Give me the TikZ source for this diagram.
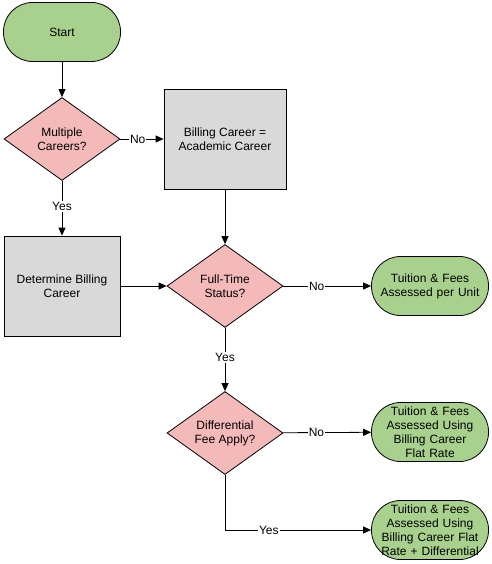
\documentclass[tikz,border=0pt]{standalone}
\usepackage{fontspec}
\setmainfont{Liberation Sans}
\usetikzlibrary{arrows.meta, shapes.geometric}
\definecolor{termgreen}{RGB}{169,209,142}
\definecolor{decpink}{RGB}{244,186,186}
\definecolor{procgray}{RGB}{217,217,217}
\tikzset{
    %set default line width
    every picture/.style={line width=0.8pt},
    terminal/.style={
        draw,
        fill=termgreen,
        minimum width=117pt,
        minimum height=59pt,
        rounded corners=29pt,
        align=center,
        inner sep=0pt,
        text width=110pt,
        font=\fontsize{12}{14}\selectfont,
    },
    decision/.style={
        draw,
        diamond,
        aspect=1.5,
        fill=decpink,
        minimum width=116pt,
        minimum height=83pt,
        inner sep=0pt,
        align=center,
        font=\fontsize{12}{14}\selectfont,
    },
    process/.style={
        draw,
        fill=procgray,
        minimum width=116pt,
        minimum height=100pt,
        align=center,
        font=\fontsize{12}{14}\selectfont,
    },
    flow/.style={
        -{Triangle[length=8pt,width=7pt]},
    },
    answer/.style={
        fill=white,
        inner sep=1pt,
        font=\fontsize{12}{14}\selectfont,
    }
}

\begin{document}
\begin{tikzpicture}[x=1pt,y=-1pt]
\useasboundingbox (0,0) rectangle (491,564);

% Terminals
\node[terminal] (start) at (62,32) {Start};
\node[terminal] (perunit) at (430,286) {Tuition \& Fees\\Assessed per Unit};
\node[terminal] (flat) at (430,432) {Tuition \& Fees\\Assessed Using\\Billing Career\\Flat Rate};
\node[terminal] (flatdiff) at (430,530) {Tuition \& Fees\\Assessed Using\\Billing Career Flat\\Rate + Differential};

% Decisions
\node[decision] (multi) at (62,139) {Multiple\\Careers?};
\node[decision] (fulltime) at (225,286) {Full-Time\\Status?};
\node[decision] (difffee) at (225,433) {Differential\\Fee Apply?};

% Processes
\node[process, minimum width=122pt] (billing) at (225,139) {Billing Career =\\Academic Career};
\node[process] (determine) at (62,286) {Determine Billing\\Career};

% Connectors
\draw[flow] (start) -- (multi);
\draw[flow] (multi) -- node[answer, pos=0.4] {No} (billing);
\draw[flow] (multi) -- node[answer, pos=0.47] {Yes} (determine);
\draw[flow] (billing) -- (fulltime);
\draw[flow] (determine) -- (fulltime);
\draw[flow] (fulltime) -- node[answer, pos=0.38] {No} (perunit);
\draw[flow] (fulltime) -- node[answer, pos=0.47] {Yes} (difffee);
\draw[flow] (difffee) -- node[answer, pos=0.38] {No} (flat);
\draw[flow] (difffee) |- node[answer, pos=0.65] {Yes} (flatdiff);
\end{tikzpicture}
\end{document}
